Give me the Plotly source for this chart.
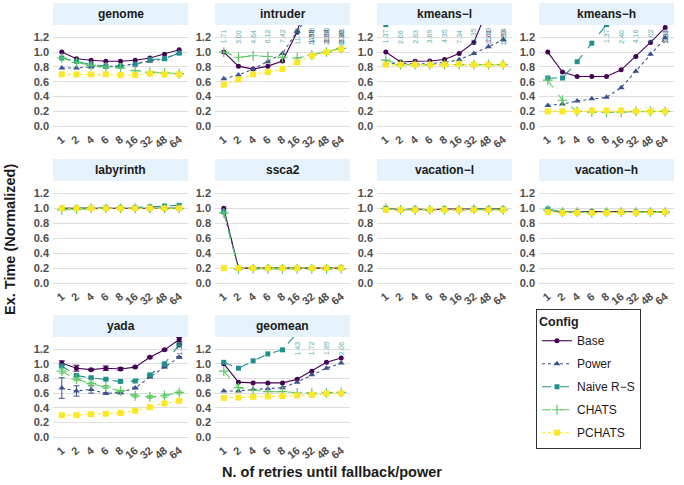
import plotly.graph_objects as go

W, H = 684, 485

RETRIES = ["1", "2", "4", "6", "8", "16", "32", "48", "64"]
BENCHMARKS = ["genome", "intruder", "kmeans\u2212l", "kmeans\u2212h", "labyrinth",
              "ssca2", "vacation\u2212l", "vacation\u2212h", "yada", "geomean"]
SERIES = ["Base", "Power", "Naive R\u2212S", "CHATS", "PCHATS"]

BASE = {
    "genome":      [1.00, 0.91, 0.89, 0.875, 0.875, 0.89, 0.92, 0.97, 1.03],
    "intruder":    [1.00, 0.81, 0.77, 0.81, 0.88, 1.27, 1.98, 2.94, 3.89],
    "kmeans\u2212l": [1.00, 0.865, 0.875, 0.88, 0.90, 0.98, 1.13, 1.61, 1.93],
    "kmeans\u2212h": [1.00, 0.73, 0.67, 0.67, 0.67, 0.76, 0.94, 1.13, 1.33],
    "labyrinth":   [1.00, 1.00, 1.00, 1.00, 1.00, 1.00, 0.99, 0.99, 1.00],
    "ssca2":       [1.00, 0.20, 0.20, 0.20, 0.20, 0.20, 0.20, 0.20, 0.20],
    "vacation\u2212l": [1.00, 0.98, 0.99, 0.98, 0.99, 0.99, 0.99, 0.99, 0.99],
    "vacation\u2212h": [0.98, 0.95, 0.95, 0.96, 0.95, 0.96, 0.95, 0.96, 0.95],
    "yada":        [1.01, 0.94, 0.92, 0.94, 0.93, 0.955, 1.09, 1.19, 1.33],
    "geomean":     [1.00, 0.75, 0.74, 0.74, 0.74, 0.79, 0.90, 1.02, 1.08],
}
POWER = {
    "genome":      [0.785, 0.785, 0.80, 0.80, 0.81, 0.845, 0.875, 0.91, 0.99],
    "intruder":    [0.64, 0.69, 0.77, 0.87, 0.98, 1.28, 1.55, 1.82, 2.10],
    "kmeans\u2212l": [0.85, 0.84, 0.84, 0.845, 0.86, 0.895, 0.98, 1.07, 1.17],
    "kmeans\u2212h": [0.28, 0.30, 0.34, 0.37, 0.39, 0.52, 0.74, 0.97, 1.19],
    "labyrinth":   [1.00, 1.00, 1.00, 1.00, 1.00, 1.00, 1.00, 1.00, 1.00],
    "ssca2":       [0.95, 0.20, 0.20, 0.20, 0.20, 0.20, 0.20, 0.20, 0.20],
    "vacation\u2212l": [0.99, 0.98, 0.98, 0.98, 0.98, 0.98, 0.99, 0.98, 0.98],
    "vacation\u2212h": [0.97, 0.95, 0.95, 0.95, 0.95, 0.95, 0.95, 0.95, 0.95],
    "yada":        [0.67, 0.63, 0.65, 0.595, 0.61, 0.67, 0.82, 0.955, 1.09],
    "geomean":     [0.63, 0.63, 0.65, 0.66, 0.675, 0.75, 0.85, 0.94, 1.01],
}
NAIVE = {
    "genome":      [0.92, 0.875, 0.83, 0.81, 0.81, 0.83, 0.90, 0.91, 0.985],
    "intruder":    [1.71, 3.00, 4.64, 6.12, 7.42, 11.45, 14.08, 22.35, 27.41],
    "kmeans\u2212l": [1.37, 2.06, 2.63, 3.69, 4.35, 7.34, 11.35, 15.49, 19.54],
    "kmeans\u2212h": [0.65, 0.65, 0.87, 1.12, 1.37, 2.40, 4.16, 5.02, 5.84],
    "labyrinth":   [1.00, 1.00, 1.00, 1.01, 1.01, 1.01, 1.02, 1.03, 1.04],
    "ssca2":       [0.95, 0.20, 0.20, 0.20, 0.20, 0.20, 0.20, 0.20, 0.21],
    "vacation\u2212l": [1.00, 0.98, 0.99, 0.98, 0.99, 0.98, 0.99, 0.99, 0.99],
    "vacation\u2212h": [0.99, 0.95, 0.95, 0.95, 0.95, 0.95, 0.95, 0.95, 0.95],
    "yada":        [0.97, 0.84, 0.81, 0.79, 0.76, 0.765, 0.85, 1.00, 1.26],
    "geomean":     [1.02, 0.94, 1.04, 1.135, 1.19, 1.43, 1.72, 1.89, 2.06],
}
CHATS = {
    "genome":      [0.92, 0.86, 0.82, 0.80, 0.785, 0.75, 0.73, 0.72, 0.71],
    "intruder":    [1.00, 0.93, 0.95, 0.94, 0.93, 0.92, 0.96, 1.00, 1.05],
    "kmeans\u2212l": [0.89, 0.83, 0.83, 0.83, 0.83, 0.83, 0.83, 0.83, 0.83],
    "kmeans\u2212h": [0.62, 0.35, 0.20, 0.19, 0.185, 0.19, 0.20, 0.20, 0.20],
    "labyrinth":   [0.98, 0.99, 1.00, 1.00, 1.00, 1.00, 1.00, 1.00, 1.00],
    "ssca2":       [0.94, 0.19, 0.19, 0.19, 0.19, 0.19, 0.19, 0.19, 0.19],
    "vacation\u2212l": [1.00, 0.98, 0.98, 0.98, 0.98, 0.98, 0.99, 0.98, 0.98],
    "vacation\u2212h": [0.98, 0.95, 0.95, 0.94, 0.95, 0.95, 0.95, 0.95, 0.95],
    "yada":        [0.90, 0.79, 0.73, 0.685, 0.63, 0.565, 0.55, 0.565, 0.61],
    "geomean":     [0.90, 0.675, 0.64, 0.62, 0.62, 0.605, 0.60, 0.605, 0.61],
}
PCHATS = {
    "genome":      [0.70, 0.70, 0.70, 0.70, 0.69, 0.69, 0.71, 0.70, 0.70],
    "intruder":    [0.56, 0.63, 0.70, 0.73, 0.77, 0.86, 0.95, 1.00, 1.04],
    "kmeans\u2212l": [0.83, 0.83, 0.83, 0.83, 0.83, 0.84, 0.83, 0.83, 0.83],
    "kmeans\u2212h": [0.20, 0.20, 0.20, 0.21, 0.21, 0.21, 0.20, 0.20, 0.20],
    "labyrinth":   [1.00, 1.00, 1.00, 1.00, 1.00, 1.00, 1.00, 1.00, 1.00],
    "ssca2":       [0.20, 0.20, 0.20, 0.20, 0.20, 0.20, 0.20, 0.20, 0.20],
    "vacation\u2212l": [0.98, 0.98, 0.98, 0.98, 0.98, 0.98, 0.98, 0.98, 0.98],
    "vacation\u2212h": [0.95, 0.94, 0.94, 0.94, 0.94, 0.95, 0.94, 0.95, 0.95],
    "yada":        [0.30, 0.30, 0.315, 0.32, 0.33, 0.36, 0.41, 0.46, 0.495],
    "geomean":     [0.535, 0.54, 0.55, 0.555, 0.56, 0.57, 0.58, 0.595, 0.60],
}
# error bars (yada only visibly)
YADA_ERR = {
    "Base":   [0.03, 0.04, 0.01, 0.03, 0.02, 0.01, 0.01, 0.01, 0.03],
    "Power":  [0.14, 0.07, 0.05, 0.01, 0.02, 0.01, 0.01, 0.01, 0.01],
    "Naive R\u2212S": [0.02, 0.01, 0.01, 0.01, 0.01, 0.01, 0.01, 0.01, 0.01],
    "CHATS":  [0.03, 0.02, 0.02, 0.02, 0.01, 0.02, 0.02, 0.02, 0.02],
    "PCHATS": [0.01, 0.01, 0.01, 0.01, 0.01, 0.01, 0.01, 0.01, 0.01],
}

DATA = {"Base": BASE, "Power": POWER, "Naive R\u2212S": NAIVE, "CHATS": CHATS, "PCHATS": PCHATS}
COLORS = {"Base": "#440154", "Power": "#3B528B", "Naive R\u2212S": "#21908C",
          "CHATS": "#5DC863", "PCHATS": "#FDE725"}
DASH = {"Base": "solid", "Power": "dot", "Naive R\u2212S": "dash", "CHATS": "dash", "PCHATS": "dot"}
SYMBOL = {"Base": "circle", "Power": "triangle-up", "Naive R\u2212S": "square",
          "CHATS": "cross-thin", "PCHATS": "square"}
MSIZE = {"Base": 5, "Power": 6, "Naive R\u2212S": 5, "CHATS": 7, "PCHATS": 6}

YMAX_LABEL = 1.3
YRANGE = [-0.065, 1.365]

COL_LEFT = [53, 215, 377, 539]
PANEL_W = 135
ROW_TOP = [25, 181, 337]
ROW_BOT = [131, 288, 442]
STRIP_H = 22
XLABEL_LIFT = 1

FONT = "Liberation Sans, Arial, sans-serif"

fig = go.Figure()
layout = {}
annotations = []
shapes = []

for i, bench in enumerate(BENCHMARKS):
    r, c = divmod(i, 4)
    n = i + 1
    xs = "" if n == 1 else str(n)
    x0, x1 = COL_LEFT[c], COL_LEFT[c] + PANEL_W
    y0, y1 = ROW_TOP[r], ROW_BOT[r]
    layout["xaxis" + xs] = dict(
        domain=[x0 / W, x1 / W], anchor="free", position=1 - (y1 - XLABEL_LIFT) / H,
        type="category",
        categoryorder="array", categoryarray=RETRIES, range=[-0.6, 8.6],
        showgrid=False, zeroline=False, showline=False, ticks="",
        tickangle=-40,
        tickfont=dict(size=11, color="#4D4D4D", family=FONT, weight="bold"),
        fixedrange=True,
    )
    layout["yaxis" + xs] = dict(
        domain=[1 - y1 / H, 1 - y0 / H], anchor="x" + xs, range=YRANGE,
        tickvals=[0, 0.2, 0.4, 0.6, 0.8, 1.0, 1.2], ticktext=["0.0", "0.2", "0.4", "0.6", "0.8", "1.0", "1.2"],
        showgrid=True, gridcolor="#DEDEDE", gridwidth=1, zeroline=False, showline=False,
        ticks="", ticklabelstandoff=3,
        tickfont=dict(size=11, color="#4D4D4D", family=FONT, weight="bold"),
        fixedrange=True,
    )
    # strip
    shapes.append(dict(type="rect", xref="paper", yref="paper",
                       x0=x0 / W, x1=x1 / W, y0=1 - y0 / H, y1=1 - (y0 - STRIP_H) / H,
                       fillcolor="#E5F2FC", line=dict(width=0), layer="below"))
    annotations.append(dict(text=bench, xref="paper", yref="paper",
                            x=(x0 + x1) / 2 / W, y=1 - (y0 - STRIP_H / 2) / H,
                            showarrow=False, xanchor="center", yanchor="middle",
                            font=dict(size=12, color="#1A1A1A", family=FONT, weight="bold")))
    for s in SERIES:
        vals = DATA[s][bench]
        err = None
        if bench == "yada":
            err = dict(type="data", array=YADA_ERR[s], color=COLORS[s], thickness=1, width=3)
        fig.add_trace(go.Scatter(
            x=RETRIES, y=vals, name=s, legendgroup=s, showlegend=(i == 0),
            mode="lines+markers", xaxis="x" + xs, yaxis="y" + xs,
            line=dict(color=COLORS[s], width=1.1, dash=DASH[s]),
            marker=dict(symbol=SYMBOL[s], size=MSIZE[s], color=COLORS[s],
                        line=dict(color=COLORS[s], width=1.2 if s == "CHATS" else 0)),
            error_y=err, cliponaxis=True,
        ))
        for k, v in enumerate(vals):
            if v > YMAX_LABEL:
                annotations.append(dict(
                    text=f"{v:.2f}", xref="x" + xs, yref="y" + xs, x=k, y=1.21,
                    textangle=-90, showarrow=False, xanchor="center", yanchor="middle",
                    opacity=0.75, font=dict(size=7, color=COLORS[s], family=FONT)))

annotations.append(dict(text="Ex. Time (Normalized)", xref="paper", yref="paper",
                        x=10 / W, y=1 - 240 / H, textangle=-90, showarrow=False,
                        xanchor="center", yanchor="middle",
                        font=dict(size=14.5, color="#1A1A1A", family=FONT, weight="bold")))
annotations.append(dict(text="N. of retries until fallback/power", xref="paper", yref="paper",
                        x=332 / W, y=1 - 472 / H, showarrow=False,
                        xanchor="center", yanchor="middle",
                        font=dict(size=14.5, color="#1A1A1A", family=FONT, weight="bold")))

fig.update_layout(
    width=W, height=H, margin=dict(l=0, r=0, t=0, b=0),
    paper_bgcolor="white", plot_bgcolor="white",
    annotations=annotations, shapes=shapes,
    legend=dict(x=536 / W, y=1 - 309 / H, xanchor="left", yanchor="top",
                bordercolor="#333333", borderwidth=1, bgcolor="white",
                title=dict(text="Config",
                           font=dict(size=12.5, color="#1A1A1A", family=FONT, weight="bold")),
                font=dict(size=12, color="#1A1A1A", family=FONT),
                tracegroupgap=4, itemwidth=30),
    **layout,
)
fig.write_html("out.html", post_script="document.body.style.margin='0';",
               config={"displayModeBar": False})
